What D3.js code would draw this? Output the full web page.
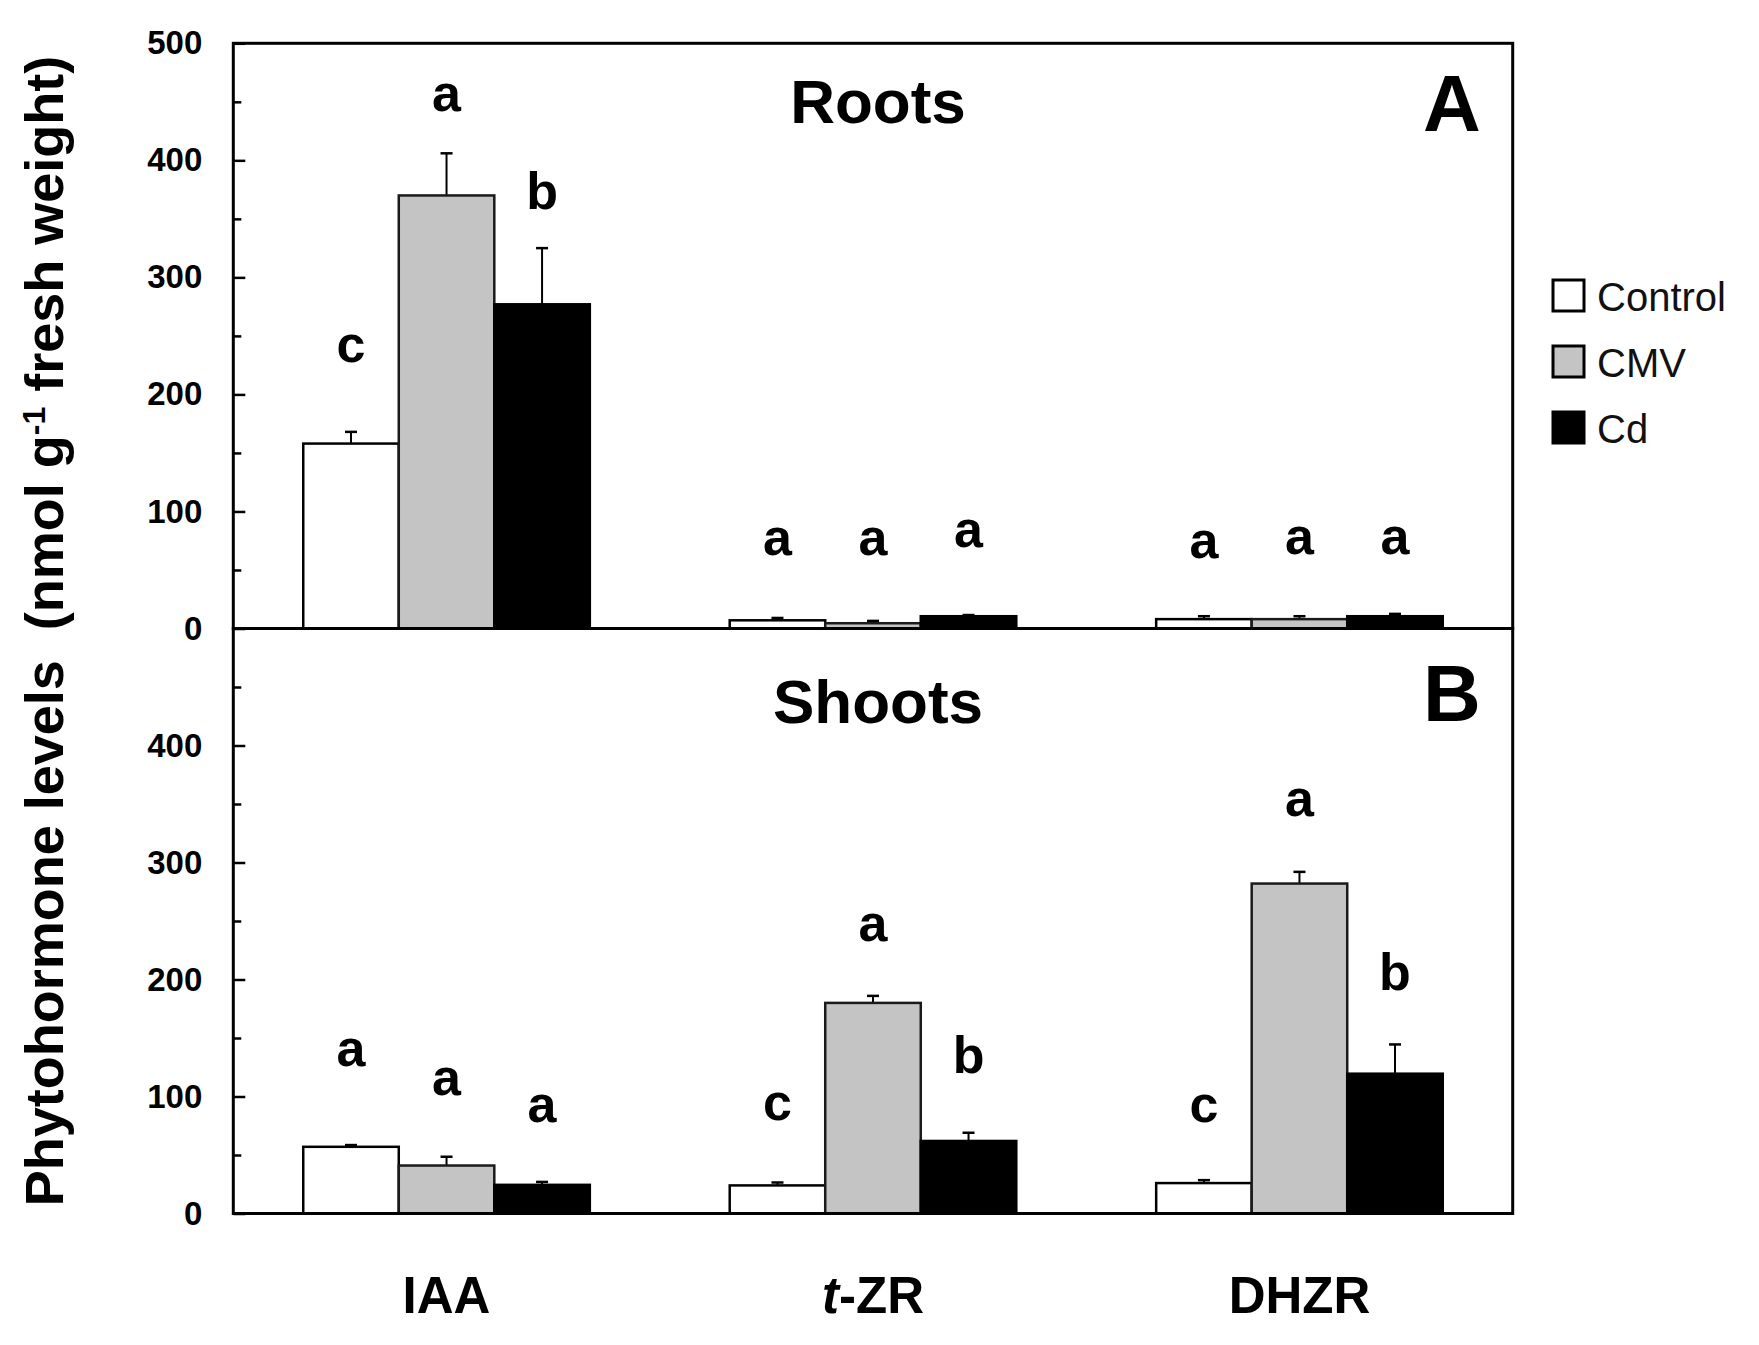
<!DOCTYPE html>
<html><head><meta charset="utf-8">
<script src="https://cdn.jsdelivr.net/npm/d3@7"></script>
<style>
html,body{margin:0;padding:0;background:#fff;}
svg{display:block;}
text{font-family:"Liberation Sans",Arial,Helvetica,sans-serif;}
</style></head><body>
<svg id="chart" width="1759" height="1345"></svg>
<script>
// ---------------- DATA ----------------
const categories = ["IAA", "t-ZR", "DHZR"];
const series = ["Control", "CMV", "Cd"];
const yTicksA = [0, 100, 200, 300, 400, 500];
const yTicksB = [0, 100, 200, 300, 400];
const minorTicks = [50, 150, 250, 350, 450];

// Panel A: Roots (means, SE, significance letters, letter level in data units)
const rootsControl = [158, 7, 8];
const rootsCMV = [370, 4.5, 8];
const rootsCd = [277, 10.5, 10.5];
const rootsControlErr = [10, 2, 2.5];
const rootsCMVErr = [36, 2, 2.5];
const rootsCdErr = [48, 1, 2];
const rootsControlLetters = ["c", "a", "a"];
const rootsCMVLetters = ["a", "a", "a"];
const rootsCdLetters = ["b", "a", "a"];
const rootsControlLetterAt = [228, 63, 60];
const rootsCMVLetterAt = [442, 63, 64];
const rootsCdLetterAt = [358, 70, 64];

// Panel B: Shoots
const shootsControl = [57, 24, 26];
const shootsCMV = [41, 180, 282];
const shootsCd = [24.5, 62, 119.5];
const shootsControlErr = [1.5, 2.5, 2.5];
const shootsCMVErr = [7.5, 6, 10];
const shootsCdErr = [2.5, 7, 25];
const shootsControlLetters = ["a", "c", "c"];
const shootsCMVLetters = ["a", "a", "a"];
const shootsCdLetters = ["a", "b", "b"];
const shootsControlLetterAt = [126, 80, 78];
const shootsCMVLetterAt = [101, 233, 340];
const shootsCdLetterAt = [78, 120, 191];

// ---------------- CHART ----------------
const fills = {Control: "#ffffff", CMV: "#c4c4c4", Cd: "#000000"};
const svg = d3.select("#chart");
const left = 233.3, right = 1512.7;
const topA = 43.3, zeroA = 628.5, zeroB = 1213.5;

const x = d3.scaleBand().domain(categories).range([left, right]).paddingInner(0).paddingOuter(0);
const groupW = x.bandwidth() * 0.672;
const xs = d3.scaleBand().domain(series).range([0, groupW]);
const barX = (c, s) => x(c) + (x.bandwidth() - groupW) / 2 + xs(s);

const yA = d3.scaleLinear().domain([0, 500]).range([zeroA, topA]);
const yB = d3.scaleLinear().domain([0, 500]).range([zeroB, zeroA]);

function buildRows(means, errs, letters, letterAt) {
  const rows = [];
  series.forEach((s, si) => {
    categories.forEach((c, ci) => {
      rows.push({cat: c, ser: s, v: means[si][ci], e: errs[si][ci], l: letters[si][ci], la: letterAt[si][ci]});
    });
  });
  return rows;
}

const rowsA = buildRows([rootsControl, rootsCMV, rootsCd],
  [rootsControlErr, rootsCMVErr, rootsCdErr],
  [rootsControlLetters, rootsCMVLetters, rootsCdLetters],
  [rootsControlLetterAt, rootsCMVLetterAt, rootsCdLetterAt]);
const rowsB = buildRows([shootsControl, shootsCMV, shootsCd],
  [shootsControlErr, shootsCMVErr, shootsCdErr],
  [shootsControlLetters, shootsCMVLetters, shootsCdLetters],
  [shootsControlLetterAt, shootsCMVLetterAt, shootsCdLetterAt]);

function drawPanel(rows, y, ticks) {
  const g = svg.append("g");
  const eb = g.append("g").selectAll("g").data(rows).join("g");
  eb.append("line")
    .attr("x1", d => barX(d.cat, d.ser) + xs.bandwidth() / 2)
    .attr("x2", d => barX(d.cat, d.ser) + xs.bandwidth() / 2)
    .attr("y1", d => y(d.v)).attr("y2", d => y(d.v + d.e))
    .attr("stroke", "#000").attr("stroke-width", 2);
  eb.append("line")
    .attr("x1", d => barX(d.cat, d.ser) + xs.bandwidth() / 2 - 6)
    .attr("x2", d => barX(d.cat, d.ser) + xs.bandwidth() / 2 + 6)
    .attr("y1", d => y(d.v + d.e)).attr("y2", d => y(d.v + d.e))
    .attr("stroke", "#000").attr("stroke-width", 2.5);
  g.append("g").selectAll("rect").data(rows).join("rect")
    .attr("x", d => barX(d.cat, d.ser))
    .attr("width", xs.bandwidth())
    .attr("y", d => y(d.v))
    .attr("height", d => y(0) - y(d.v))
    .attr("fill", d => fills[d.ser])
    .attr("stroke", d => d.ser === "CMV" ? "#1a1a1a" : "#000")
    .attr("stroke-width", 2.5);
  g.append("g").selectAll("text").data(rows).join("text")
    .attr("x", d => barX(d.cat, d.ser) + xs.bandwidth() / 2)
    .attr("y", d => y(d.la))
    .attr("text-anchor", "middle")
    .attr("font-size", 52).attr("font-weight", "bold")
    .text(d => d.l);
  const ax = d3.axisLeft(y).tickValues(ticks).tickSize(-12).tickPadding(31).tickFormat(d3.format("d"));
  const axg = g.append("g").attr("transform", `translate(${left},0)`).call(ax);
  axg.select(".domain").remove();
  axg.selectAll(".tick line").attr("stroke", "#000").attr("stroke-width", 2.5);
  axg.selectAll(".tick text").attr("font-size", 33).attr("font-weight", "bold")
    .attr("fill", "#000").attr("font-family", "'Liberation Sans', Arial, sans-serif");
  const mx = d3.axisLeft(y).tickValues(minorTicks).tickSize(-8).tickFormat("");
  const mg = g.append("g").attr("transform", `translate(${left},0)`).call(mx);
  mg.select(".domain").remove();
  mg.selectAll(".tick line").attr("stroke", "#000").attr("stroke-width", 2.5);
}

drawPanel(rowsA, yA, yTicksA);
drawPanel(rowsB, yB, yTicksB);

svg.append("rect").attr("x", left).attr("y", topA).attr("width", right - left).attr("height", zeroA - topA)
  .attr("fill", "none").attr("stroke", "#000").attr("stroke-width", 3);
svg.append("rect").attr("x", left).attr("y", zeroA).attr("width", right - left).attr("height", zeroB - zeroA)
  .attr("fill", "none").attr("stroke", "#000").attr("stroke-width", 3);

const midX = (left + right) / 2 + 5;
svg.append("text").attr("x", midX).attr("y", 123).attr("text-anchor", "middle")
  .attr("font-size", 62).attr("font-weight", "bold").text("Roots");
svg.append("text").attr("x", midX).attr("y", 723).attr("text-anchor", "middle")
  .attr("font-size", 62).attr("font-weight", "bold").text("Shoots");
svg.append("text").attr("x", 1452).attr("y", 131).attr("text-anchor", "middle")
  .attr("font-size", 80).attr("font-weight", "bold").text("A");
svg.append("text").attr("x", 1452).attr("y", 721).attr("text-anchor", "middle")
  .attr("font-size", 80).attr("font-weight", "bold").text("B");

const catG = svg.append("g").selectAll("text").data(categories).join("text")
  .attr("x", d => x(d) + x.bandwidth() / 2)
  .attr("y", 1313)
  .attr("text-anchor", "middle")
  .attr("font-size", 51).attr("font-weight", "bold");
catG.each(function(d) {
  const t = d3.select(this);
  if (d.startsWith("t-")) {
    t.append("tspan").attr("font-style", "italic").text("t");
    t.append("tspan").text(d.slice(1));
  } else {
    t.text(d);
  }
});

const yt = svg.append("text")
  .attr("transform", "translate(63,631) rotate(-90)")
  .attr("text-anchor", "middle")
  .attr("font-size", 54).attr("font-weight", "bold")
  .attr("xml:space", "preserve")
  .style("white-space", "pre");
yt.append("tspan").text("Phytohormone levels  (nmol g");
yt.append("tspan").attr("font-size", 32).attr("baseline-shift", "super").text("-1");
yt.append("tspan").text(" fresh weight)");

const lg = svg.append("g").selectAll("g").data(series).join("g")
  .attr("transform", (d, i) => `translate(1553,${280 + i * 66})`);
lg.append("rect").attr("width", 31).attr("height", 31)
  .attr("fill", d => fills[d]).attr("stroke", "#000").attr("stroke-width", 3);
lg.append("text").attr("x", 44).attr("y", 31)
  .attr("font-family", "'Open Sans', 'Noto Sans', sans-serif")
  .attr("font-size", 40).attr("fill", "#111").text(d => d);
</script>
</body></html>
